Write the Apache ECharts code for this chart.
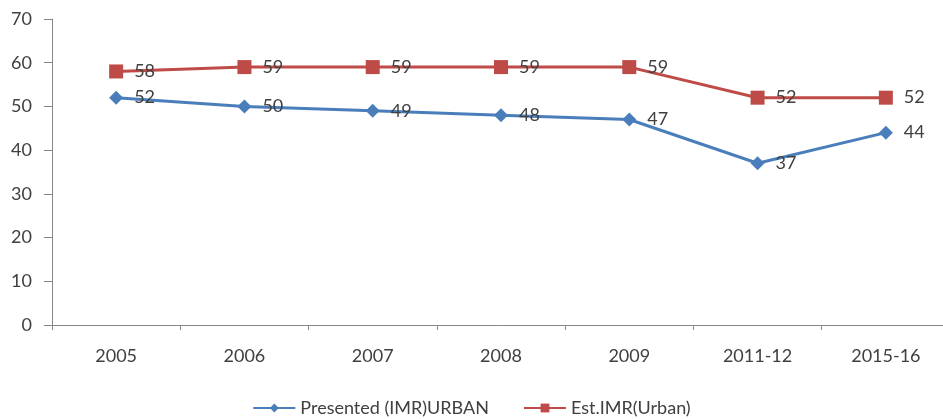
<!DOCTYPE html>
<html>
<head>
<meta charset="utf-8">
<style>
  html, body { margin: 0; padding: 0; background: #fff; }
  #chart { width: 943px; height: 419px; }
</style>
<script src="https://cdn.jsdelivr.net/npm/echarts@6/dist/echarts.min.js"></script>
</head>
<body>
<div id="chart"></div>
<script>
// Urban infant mortality rate: presented vs. estimated
const periods = ['2005', '2006', '2007', '2008', '2009', '2011-12', '2015-16'];
const presentedUrban = [52, 50, 49, 48, 47, 37, 44];
const estimatedUrban = [58, 59, 59, 59, 59, 52, 52];
const yTicks = { min: 0, max: 70, step: 10 };

const FONT = 'Lato';
const TEXT = '#404040';
const FS = 18;

const chart = echarts.init(document.getElementById('chart'), null, { renderer: 'canvas' });

const labelStyle = {
  show: true,
  position: 'right',
  distance: 11,
  color: TEXT,
  fontFamily: FONT,
  fontSize: FS
};

chart.setOption({
  animation: false,
  backgroundColor: '#ffffff',
  // plot area runs slightly past the right edge of the canvas
  grid: {
    left: 52, top: 19, right: -7, bottom: 94,
    containLabel: false,
    outerBoundsMode: 'none'
  },
  legend: {
    bottom: -3,
    left: 'center',
    itemWidth: 42,
    itemHeight: 11,
    itemGap: 34,
    textStyle: { color: TEXT, fontFamily: FONT, fontSize: FS },
    data: ['Presented (IMR)URBAN', 'Est.IMR(Urban)']
  },
  xAxis: {
    type: 'category',
    data: periods,
    boundaryGap: true,
    axisLine: { lineStyle: { color: '#868686', width: 1 } },
    axisTick: { show: true, length: 5, alignWithLabel: false, lineStyle: { color: '#868686' } },
    axisLabel: { color: TEXT, fontFamily: FONT, fontSize: FS, margin: 22 }
  },
  yAxis: {
    type: 'value',
    min: yTicks.min,
    max: yTicks.max,
    interval: yTicks.step,
    axisLine: { show: true, lineStyle: { color: '#868686', width: 1 } },
    axisTick: { show: true, length: 8, lineStyle: { color: '#868686' } },
    splitLine: { show: false },
    axisLabel: { color: TEXT, fontFamily: FONT, fontSize: FS, margin: 20 }
  },
  series: [
    {
      name: 'Presented (IMR)URBAN',
      type: 'line',
      data: presentedUrban,
      symbol: 'diamond',
      symbolSize: 14,
      color: '#4a7ebb',
      lineStyle: { width: 3, color: '#4a7ebb' },
      itemStyle: { color: '#4a7ebb' },
      label: labelStyle,
      z: 3
    },
    {
      name: 'Est.IMR(Urban)',
      type: 'line',
      data: estimatedUrban,
      symbol: 'rect',
      symbolSize: 14,
      color: '#be4b48',
      lineStyle: { width: 3, color: '#be4b48' },
      itemStyle: { color: '#be4b48' },
      label: labelStyle,
      z: 2
    }
  ]
});
</script>
</body>
</html>
